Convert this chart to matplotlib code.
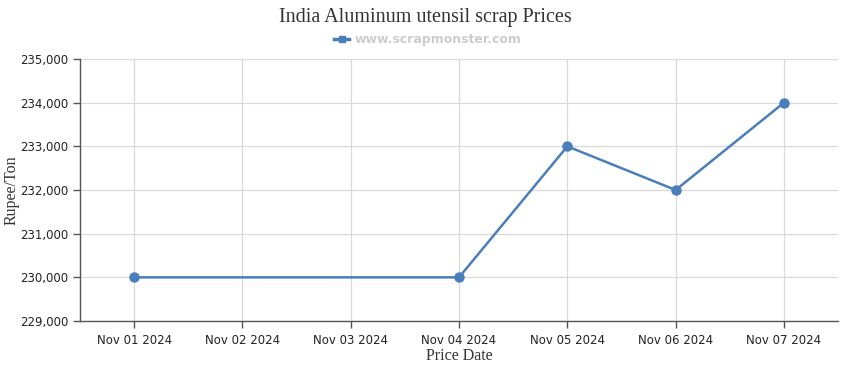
import numpy as np
import matplotlib.pyplot as plt
from matplotlib.ticker import FuncFormatter
from matplotlib.lines import Line2D

# data (Nov 02 and Nov 03 have no point)
dates = ['Nov 01 2024', 'Nov 02 2024', 'Nov 03 2024', 'Nov 04 2024',
         'Nov 05 2024', 'Nov 06 2024', 'Nov 07 2024']
prices = [230000, np.nan, np.nan, 230000, 233000, 232000, 234000]

line_color = '#4a7ebb'

fig = plt.figure(figsize=(8.5, 3.7), dpi=100)
ax = fig.add_axes([0.0941, 0.1324, 0.8919, 0.7081])

x = np.arange(len(dates))
y = np.array(prices, dtype=float)
ok = ~np.isnan(y)
ax.plot(x[ok], y[ok], color=line_color, lw=1.8, marker='o', ms=6.5,
        zorder=3)

ax.set_xlim(-0.5, len(dates) - 0.5)
ax.set_ylim(229000, 235000)
ax.set_xticks(x)
ax.set_xticklabels(dates)
ax.set_yticks(np.arange(229000, 235001, 1000))
ax.yaxis.set_major_formatter(FuncFormatter(lambda v, p: f'{int(v):,}'))

ax.grid(True, color='#d9d9d9', lw=0.9)
ax.set_axisbelow(True)
for s in ['top', 'right']:
    ax.spines[s].set_visible(False)
for s in ['left', 'bottom']:
    ax.spines[s].set_color('#555555')
    ax.spines[s].set_linewidth(1.0)
ax.tick_params(axis='both', colors='#555555', labelcolor='#222222',
               labelsize=8.5, length=5, width=1)
ax.tick_params(axis='x', pad=4)

serif = ['Liberation Serif', 'DejaVu Serif']
ax.set_xlabel('Price Date', family=serif, fontsize=11.5, color='#333333',
              labelpad=1)
ax.set_ylabel('Rupee/Ton', family=serif, fontsize=11.5, color='#333333')
ax.yaxis.set_label_coords(-0.0795, 0.5)

fig.text(0.5, 0.952, 'India Aluminum utensil scrap Prices', ha='center',
         va='center', family=serif, fontsize=14.5, color='#333333')

handle = Line2D([], [], color=line_color, lw=2.5, marker='s', ms=5)
leg = fig.legend([handle], ['www.scrapmonster.com'], loc='center',
                 bbox_to_anchor=(0.503, 0.893), frameon=False,
                 handlelength=1.2, handletextpad=0.4,
                 prop={'family': 'DejaVu Sans', 'weight': 'bold', 'size': 9})
leg.get_texts()[0].set_color('#cccccc')

fig.savefig('out.png', dpi=100)
